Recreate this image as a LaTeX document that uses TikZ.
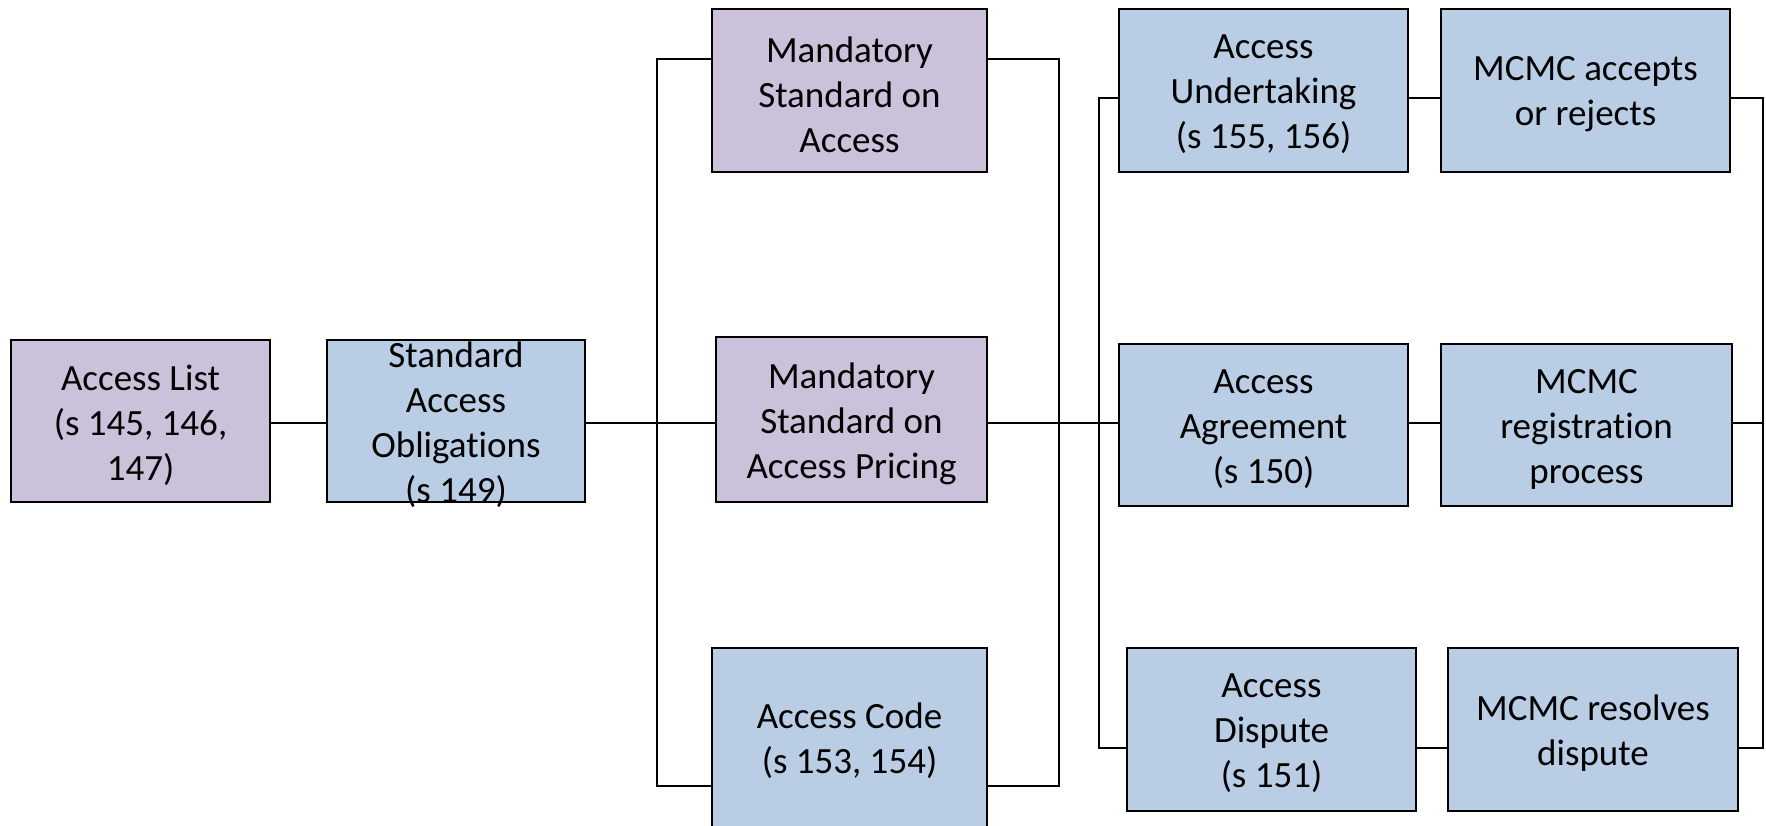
\documentclass[tikz,border=0pt]{standalone}
\usepackage{fontspec}
\setmainfont[RawFeature={-liga;-clig;-calt;-dlig}]{Carlito}
\definecolor{lav}{HTML}{CCC1DA}
\definecolor{sky}{HTML}{B9CDE5}
\tikzset{
  box/.style={draw=black, line width=1.8pt, inner sep=0pt, outer sep=0pt},
  pbox/.style={box, fill=lav},
  bbox/.style={box, fill=sky},
  txt/.style={align=center, inner sep=0pt, yshift=-4pt, font=\fontsize{37}{45}\selectfont},
  conn/.style={line width=1.6pt, line cap=rect}
}
\begin{document}
\begin{tikzpicture}[x=1pt,y=-1pt]
\useasboundingbox (0,0) rectangle (1766,826);
\fill[white] (0,0) rectangle (1766,826);
% boxes
\node[pbox, minimum width=259pt, minimum height=162pt] (al) at (140.5,421) {};
\node[bbox, minimum width=258pt, minimum height=162pt] (sao) at (456,421) {};
\node[pbox, minimum width=275pt, minimum height=163pt] (msa) at (849.5,90.5) {};
\node[pbox, minimum width=271pt, minimum height=165pt] (msap) at (851.5,419.5) {};
\node[bbox, minimum width=275pt, minimum height=182pt] (ac) at (849.5,739) {};
\node[bbox, minimum width=289pt, minimum height=163pt] (au) at (1263.5,90.5) {};
\node[bbox, minimum width=289pt, minimum height=163pt] (ma) at (1585.5,90.5) {};
\node[bbox, minimum width=289pt, minimum height=162pt] (aa) at (1263.5,425) {};
\node[bbox, minimum width=291pt, minimum height=162pt] (mr) at (1586.5,425) {};
\node[bbox, minimum width=289pt, minimum height=163pt] (ad) at (1271.5,729.5) {};
\node[bbox, minimum width=290pt, minimum height=163pt] (md) at (1593,729.5) {};
% texts
\node[txt] (alt) at (al) {Access List\\(s 145, 146,\\147)};
\node[txt] (saot) at (sao) {Standard\\Access\\Obligations\\(s 149)};
\node[txt] (msat) at (msa) {Mandatory\\Standard on\\Access};
\node[txt] (msapt) at (msap) {Mandatory\\Standard on\\Access Pricing};
\node[txt, yshift=2pt] (act) at (ac) {Access Code\\(s 153, 154)};
\node[txt] (aut) at (au) {Access\\Undertaking\\(s 155, 156)};
\node[txt] (mat) at (ma) {MCMC accepts\\or rejects};
\node[txt] (aat) at (aa) {Access\\Agreement\\(s 150)};
\node[txt] (mrt) at (mr) {MCMC\\registration\\process};
\node[txt] (adt) at (ad) {Access\\Dispute\\(s 151)};
\node[txt] (mdt) at (md) {MCMC resolves\\dispute};
% bus coordinates
\coordinate (b1t) at (657,59);
\coordinate (b1m) at (657,423);
\coordinate (b1b) at (657,786);
\coordinate (b2t) at (1059,59);
\coordinate (b2b) at (1059,786);
\coordinate (b3t) at (1099,98);
\coordinate (b3b) at (1099,748);
\coordinate (b4t) at (1763,98);
\coordinate (b4m) at (1763,423);
\coordinate (b4b) at (1763,748);
% connectors
\draw[conn] (al.east |- b1m) -- (sao.west |- b1m);
\draw[conn] (sao.east |- b1m) -- (msap.west |- b1m);
\draw[conn] (msa.west |- b1t) -- (b1t) -- (b1b) -- (ac.west |- b1b);
\draw[conn] (msa.east |- b2t) -- (b2t) -- (b2b) -- (ac.east |- b2b);
\draw[conn] (msap.east |- b1m) -- (aa.west |- b1m);
\draw[conn] (au.west |- b3t) -- (b3t) -- (b3b) -- (ad.west |- b3b);
\draw[conn] (au.east |- b3t) -- (ma.west |- b3t);
\draw[conn] (ma.east |- b3t) -- (b4t) -- (b4b) -- (md.east |- b4b);
\draw[conn] (aa.east |- b1m) -- (mr.west |- b1m);
\draw[conn] (mr.east |- b1m) -- (b4m);
\draw[conn] (ad.east |- b3b) -- (md.west |- b3b);
\end{tikzpicture}
\end{document}
